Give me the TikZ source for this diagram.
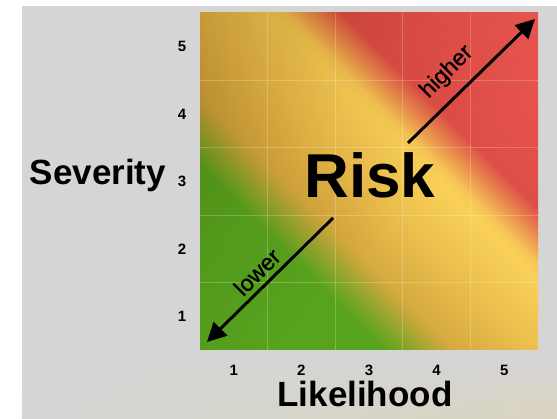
\documentclass[tikz,border=0pt]{standalone}
\usepackage{fontspec}
\setmainfont{Liberation Sans}
\usetikzlibrary{arrows.meta,fadings}
\pgfdeclarehorizontalshading{riskshade}{520bp}{rgb(0bp)=(0.337,0.635,0.118); rgb(152bp)=(0.345,0.640,0.118); rgb(200bp)=(0.83,0.66,0.243); rgb(260bp)=(0.925,0.753,0.306); rgb(308bp)=(0.973,0.816,0.345); rgb(320bp)=(0.965,0.784,0.333); rgb(360bp)=(0.871,0.306,0.282); rgb(520bp)=(0.925,0.345,0.322)}
\pgfdeclarehorizontalshading{tintshade}{520bp}{rgb(0bp)=(0.84,0.80,0.72); rgb(21bp)=(0.84,0.80,0.72); rgb(188bp)=(0.96,0.94,0.91); rgb(308bp)=(1,1,1); rgb(520bp)=(1,1,1)}
\definecolor{bggray}{RGB}{213,213,213}
\definecolor{glowgreen}{RGB}{198,212,170}
\definecolor{glowbeige}{RGB}{218,212,192}
\begin{document}
\begin{tikzpicture}[x=1pt,y=1pt,
  tick/.style={font=\bfseries\fontsize{15}{17}\selectfont, inner sep=0pt},
  axislabel/.style={font=\bfseries\fontsize{35}{40}\selectfont, anchor=base, inner sep=0pt},
  risklabel/.style={font=\bfseries\fontsize{62}{70}\selectfont, anchor=base, inner sep=0pt},
  dirlabel/.style={font=\addfontfeature{FakeBold=0.6}\fontsize{23}{26}\selectfont, rotate=45, inner sep=0pt},
  riskarrow/.style={line width=3pt, -{Triangle[length=19pt,width=19pt]}},
  gridline/.style={white, opacity=0.22, line width=0.9pt}]
\useasboundingbox (0,0) rectangle (557,419);
\fill[white] (0,0) rectangle (557,419);
\fill[bggray] (22,0) rectangle (557,413);
\shade[left color=bggray, middle color=glowgreen, right color=glowbeige, path fading=north] (22,0) rectangle (557,62);
\begin{scope}
  \clip (200,69) rectangle (538,406);
  \node[rotate=45, inner sep=0pt, outer sep=0pt] (riskfield) at (369,237.5) {\pgfuseshading{riskshade}};
  \begin{scope}[blend mode=multiply]
    \node[rotate=-45, inner sep=0pt, outer sep=0pt] (tintfield) at (369,237.5) {\pgfuseshading{tintshade}};
  \end{scope}
  \foreach \i in {1,...,4} {
    \draw[gridline] ({200+67.6*\i},69) -- ({200+67.6*\i},406);
    \draw[gridline] (200,{69+67.4*\i}) -- (538,{69+67.4*\i});
  }
\end{scope}
\foreach \n [count=\k from 0] in {1,...,5} {
  \node[tick] (xt\n) at ({233.8+67.6*\k},49) {\n};
  \node[tick] (yt\n) at (182,{102.7+67.4*\k}) {\n};
}
\node[axislabel] (sev) at (98,234) {Severity};
\node[axislabel] (lik) at (365,12) {Likelihood};
\node[risklabel] (risk) at (370,221) {Risk};
\coordinate (hiTail) at (408,276);
\coordinate (hiTip) at (535,400);
\coordinate (loTail) at (333,201);
\coordinate (loTip) at (207,77);
\draw[riskarrow] (hiTail) -- (hiTip);
\draw[riskarrow] (loTail) -- (loTip);
\node[dirlabel] (hi) at (447,347) {higher};
\node[dirlabel] (lo) at (257,147) {lower};
\end{tikzpicture}
\end{document}
